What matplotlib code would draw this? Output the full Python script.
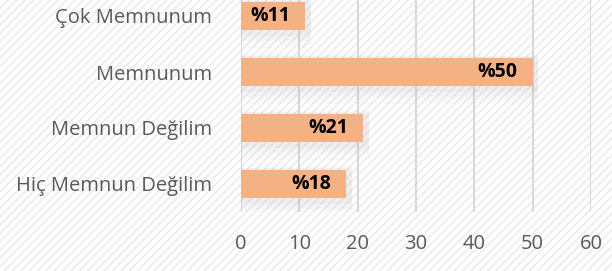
import matplotlib.pyplot as plt
from matplotlib.patches import Rectangle

categories = ["Hiç Memnun Değilim", "Memnun Değilim", "Memnunum", "Çok Memnunum"]
values = [18, 21, 50, 11]
labels = ["%18", "%21", "%50", "%11"]
xticks = [0, 10, 20, 30, 40, 50, 60]

plt.rcParams['font.family'] = ['Open Sans', 'DejaVu Sans']

fig = plt.figure(figsize=(6.12, 2.71), dpi=100)
fig.patch.set_facecolor("white")

# hatched background like the original chart area
bg = Rectangle((0, 0), 1, 1, transform=fig.transFigure, facecolor="white",
               edgecolor="#e9e9e9", hatch="////", linewidth=0, zorder=-10)
fig.patches.append(bg)

ax = fig.add_axes([241 / 612, 59 / 271, 350 / 612, 224 / 271])
ax.set_facecolor("none")

ypos = list(range(len(categories)))

# soft shadow around the bars
for off, a in [(0.08, 0.07), (0.16, 0.05), (0.26, 0.04)]:
    ax.barh([y - off / 2 for y in ypos], [v + 1.0 for v in values], height=0.5 + off * 1.5,
            color="#9a9a9a", alpha=a, linewidth=0, zorder=1)

ax.barh(ypos, values, height=0.5, color="#F4B183", linewidth=0, zorder=3)

for y, v, lab in zip(ypos, values, labels):
    ax.annotate(lab, (v, y), xytext=(-11, 0), textcoords="offset points",
                ha="right", va="center", fontsize=14, fontweight="bold",
                color="black", zorder=4)

ax.set_xlim(0, 60)
ax.set_ylim(-0.5, 3.5)
ax.set_xticks(xticks)
ax.set_yticks(ypos)
ax.set_yticklabels(categories)
ax.grid(axis="x", color="#d9d9d9", linewidth=1.5, zorder=0)
ax.set_axisbelow(True)
for s in ax.spines.values():
    s.set_visible(False)
ax.tick_params(axis="both", length=0, labelcolor="#595959", labelsize=14.5)
ax.tick_params(axis="x", pad=16)
ax.tick_params(axis="y", pad=21)

fig.savefig("out.png", dpi=100)
